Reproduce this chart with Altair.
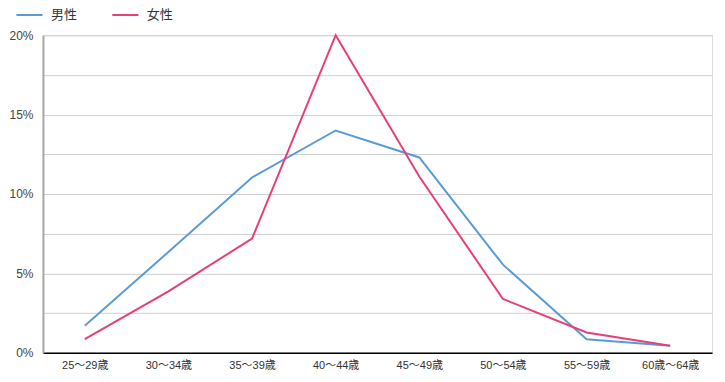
import altair as alt
import pandas as pd

categories = ["25～29歳", "30～34歳", "35～39歳", "40～44歳", "45～49歳", "50～54歳", "55～59歳", "60歳～64歳"]
male = [1.70, 6.35, 11.04, 14.0, 12.3, 5.55, 0.85, 0.44]
female = [0.86, 3.87, 7.19, 20.0, 11.1, 3.39, 1.28, 0.44]
series = ["男性", "女性"]
colors = ["#5B9BD5", "#E83E7A"]

rows = []
for c, m, f in zip(categories, male, female):
    rows.append({"cat": c, "series": series[0], "value": m})
    rows.append({"cat": c, "series": series[1], "value": f})
df = pd.DataFrame(rows)

font = "Liberation Sans, Noto Sans CJK JP"

chart = alt.Chart(df).mark_line(strokeWidth=2).encode(
    x=alt.X("cat:N", sort=categories, title=None,
            scale=alt.Scale(paddingInner=0, paddingOuter=0.5),
            axis=alt.Axis(labelAngle=0, ticks=False, domainColor="#000000", domainWidth=1.5,
                          labelFontSize=11, labelColor="#333333", labelPadding=7, grid=False)),
    y=alt.Y("value:Q", title=None,
            scale=alt.Scale(domain=[0, 20], nice=False),
            axis=alt.Axis(values=[0, 2.5, 5, 7.5, 10, 12.5, 15, 17.5, 20],
                          labelExpr="datum.value % 5 == 0 ? datum.value + '%' : ''",
                          ticks=False, domainColor="#a6a6a6", domainWidth=2,
                          gridColor="#d0d0d0", gridWidth=1,
                          labelFontSize=12, labelColor="#444444", labelPadding=10)),
    color=alt.Color("series:N", sort=series,
                    scale=alt.Scale(domain=series, range=colors),
                    legend=alt.Legend(title=None, orient="none", legendX=-28, legendY=-35,
                                      padding=0,
                                      direction="horizontal", symbolType="stroke",
                                      symbolStrokeWidth=2, symbolSize=680,
                                      labelFontSize=13, labelColor="#333333",
                                      labelOffset=7, columnPadding=30)),
).properties(width=670, height=318,
             padding={"top": -8, "left": 0, "right": 5, "bottom": 5}).configure_view(
    stroke="#a6a6a6", strokeWidth=2
).configure(font=font).configure_axis(labelFont=font).configure_legend(labelFont=font)

chart.save("out.html", embed_options={"renderer": "svg", "actions": False})
